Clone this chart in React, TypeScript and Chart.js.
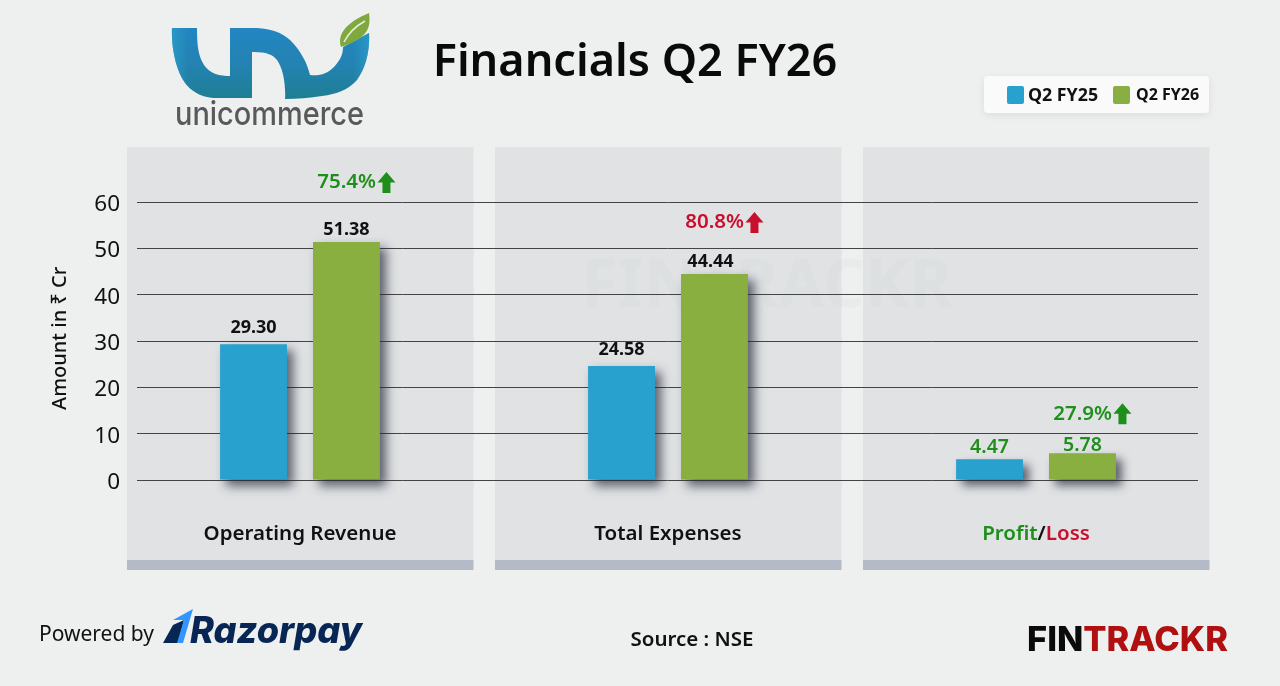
import React, { useEffect, useRef } from 'react';
import Chart from 'chart.js/auto';

const FONT = '"Noto Sans", "Open Sans", sans-serif';

const categories = ['Operating Revenue', 'Total Expenses', 'Profit/Loss'];
const q2fy25 = [29.3, 24.58, 4.47];
const q2fy26 = [51.38, 44.44, 5.78];
const seriesLabels = ['Q2 FY25', 'Q2 FY26'];
const seriesColors = ['#28A1CE', '#88AF3F'];
const yTicks = [0, 10, 20, 30, 40, 50, 60];

const changeLabels = ['75.4%', '80.8%', '27.9%'];
const changeColors = ['#1F8F1B', '#C8102E', '#1F8F1B'];
// height of the change labels, in axis units
const changeLevels = [64.2, 55.6, 14.3];

const panelLefts = [127, 495, 863];

const GREEN = '#1F8F1B';
const RED = '#C8102E';

const backdrop = {
  id: 'backdrop',
  beforeDraw(chart: any) {
    const { ctx } = chart;
    ctx.save();
    panelLefts.forEach((left) => {
      ctx.fillStyle = '#E0E2E4';
      ctx.fillRect(left, 147, 346.5, 413);
      ctx.fillStyle = '#B4BAC6';
      ctx.fillRect(left, 560, 346.5, 10);
    });
    ctx.font = `700 66px ${FONT}`;
    ctx.fillStyle = 'rgba(200,204,208,0.1)';
    ctx.textAlign = 'center';
    ctx.textBaseline = 'middle';
    ctx.fillText('FINTRACKR', 767, 288);
    ctx.restore();
  },
};

const barShadow = {
  id: 'barShadow',
  beforeDatasetsDraw(chart: any) {
    const { ctx } = chart;
    ctx.save();
    ctx.shadowColor = 'rgba(35,40,55,0.7)';
    ctx.shadowBlur = 10;
    ctx.shadowOffsetX = 6;
    ctx.shadowOffsetY = 6;
  },
  afterDatasetsDraw(chart: any) {
    chart.ctx.restore();
  },
};

const drawArrow = (ctx: any, x: number, y: number, color: string) => {
  ctx.fillStyle = color;
  ctx.beginPath();
  ctx.moveTo(x, y - 10.5);
  ctx.lineTo(x + 9, y);
  ctx.lineTo(x + 4, y);
  ctx.lineTo(x + 4, y + 10.5);
  ctx.lineTo(x - 4, y + 10.5);
  ctx.lineTo(x - 4, y);
  ctx.lineTo(x - 9, y);
  ctx.closePath();
  ctx.fill();
};

const annotations = {
  id: 'annotations',
  afterDraw(chart: any) {
    const { ctx, scales } = chart;
    ctx.save();
    ctx.textBaseline = 'middle';
    ctx.textAlign = 'center';

    // values above the bars
    [q2fy25, q2fy26].forEach((values, d) => {
      const bars = chart.getDatasetMeta(d).data;
      values.forEach((v, i) => {
        ctx.font = i === 2 ? `600 19.5px ${FONT}` : `700 18px ${FONT}`;
        ctx.fillStyle = i === 2 ? GREEN : '#111';
        let gap = d === 0 ? 16 : 12.5;
        if (i === 2) gap = d === 1 ? 8 : 12;
        // the 44.44 label sits a little left of its bar in the picture
        const nudge = i === 1 && d === 1 ? -4 : 0;
        ctx.fillText(v.toFixed(2), bars[i].x + nudge, scales.y.getPixelForValue(v) - gap);
      });
    });

    // change labels with the arrow
    changeLabels.forEach((label, i) => {
      const x = chart.getDatasetMeta(1).data[i].x;
      const y = scales.y.getPixelForValue(changeLevels[i]);
      ctx.font = `600 20.5px ${FONT}`;
      ctx.fillStyle = changeColors[i];
      ctx.textAlign = 'right';
      ctx.fillText(label, x + 29.5, y);
      drawArrow(ctx, x + 40, y, changeColors[i]);
    });

    // category labels
    ctx.font = `600 20.5px ${FONT}`;
    ctx.textAlign = 'left';
    categories.forEach((name, i) => {
      const cx = scales.x.getPixelForValue(i);
      const parts =
        name === 'Profit/Loss'
          ? [['Profit', GREEN], ['/', '#111'], ['Loss', RED]]
          : [[name, '#111']];
      const total = parts.reduce((w, p) => w + ctx.measureText(p[0]).width, 0);
      let x = cx - total / 2;
      parts.forEach((p) => {
        ctx.fillStyle = p[1];
        ctx.fillText(p[0], x, 534);
        x += ctx.measureText(p[0]).width;
      });
    });
    ctx.restore();
  },
};

const App: React.FC = () => {
  const canvasRef = useRef<HTMLCanvasElement>(null);

  useEffect(() => {
    document.body.style.margin = '0';
    if (!canvasRef.current) return;
    const chart = new Chart(canvasRef.current, {
      type: 'bar',
      data: {
        datasets: [q2fy25, q2fy26].map((values, d) => ({
          label: seriesLabels[d],
          data: values.map((y, x) => ({ x, y })),
          backgroundColor: seriesColors[d],
          borderWidth: 0,
          categoryPercentage: 0.505,
          barPercentage: 0.72,
          clip: false,
        })),
      },
      options: {
        responsive: false,
        animation: false,
        devicePixelRatio: 1,
        layout: { autoPadding: false, padding: { left: 0, top: 202, right: 82, bottom: 206 } },
        plugins: { legend: { display: false }, title: { display: false }, tooltip: { enabled: false } },
        scales: {
          x: {
            type: 'linear',
            display: false,
            offset: false,
            min: -0.4429,
            max: 2.4402,
            ticks: { stepSize: 1, includeBounds: false },
          },
          y: {
            min: 0,
            max: 60,
            afterFit: (scale: any) => {
              scale.width = 137;
            },
            afterBuildTicks: (scale: any) => {
              scale.ticks = yTicks.map((value) => ({ value }));
            },
            border: { display: false },
            grid: { color: '#444', lineWidth: 1, drawTicks: false },
            ticks: { color: '#111', padding: 17, labelOffset: 2.5, font: { family: FONT, size: 22.5 } },
            title: {
              display: true,
              text: ' Amount in ₹ Cr',
              color: '#111',
              font: { family: FONT, size: 20, weight: 500 },
              padding: { top: 48, bottom: 0 },
            },
          },
        },
      },
      plugins: [backdrop, barShadow, annotations],
    } as any);
    return () => chart.destroy();
  }, []);

  const swatch = (left: number, color: string) => (
    <div style={{ position: 'absolute', left, top: 10, width: 17, height: 18, borderRadius: 2, background: color }} />
  );

  return (
    <div style={{ position: 'relative', width: 1280, height: 686, overflow: 'hidden', background: '#EEEFEF', fontFamily: FONT }}>
      <canvas ref={canvasRef} width={1280} height={686} style={{ position: 'absolute', left: 0, top: 0, display: 'block' }} />

      <svg width={1280} height={686} style={{ position: 'absolute', left: 0, top: 0 }}>
        <defs>
          <linearGradient id="uniFill" x1="0" y1="0" x2="0" y2="1">
            <stop offset="0" stopColor="#2386C2" />
            <stop offset="0.55" stopColor="#2382B0" />
            <stop offset="1" stopColor="#1E7F92" />
          </linearGradient>
          <linearGradient id="uniEdge" x1="0" y1="0" x2="1" y2="0">
            <stop offset="0" stopColor="#2A9CC6" stopOpacity="0.8" />
            <stop offset="0.08" stopColor="#2A9CC6" stopOpacity="0" />
            <stop offset="0.92" stopColor="#2A9CC6" stopOpacity="0" />
            <stop offset="1" stopColor="#2A9CC6" stopOpacity="0.8" />
          </linearGradient>
        </defs>
        {['url(#uniFill)', 'url(#uniEdge)'].map((fill) => (
          <path
            key={fill}
            fill={fill}
            d="M172 28 L197 28 C197 45 198 55 204 65 C210 74 220 76 230 76 L230 28 L257 28 C272 29 281 32 290 40 C300 50 307 62 310 75 C320 76 327 74 334 67 C340 60 343 55 343 47 L369 33 C370 50 366 68 357 80 C348 90 337 94 322 96 C310 98 297 99 285 99 C286 85 283 68 277 60 C272 54 266 52 252 52 L252 98 L213 98 C200 97 190 90 185 83 C177 72 171 50 172 28 Z"
          />
        ))}
        <path fill="#7FA83F" d="M341 47 C337 35 345 23 369 13 C371 28 368 38 341 47 Z" />
        <path fill="none" stroke="#E6EFD8" strokeWidth="1.5" d="M344 42 C349 32 356 26 365 21" />
        <text x={175} y={125} fontFamily="Inter" fontSize={33} fontWeight={500} fill="#59595B" textLength={189} lengthAdjust="spacingAndGlyphs">
          unicommerce
        </text>

        <text x={635} y={76} textAnchor="middle" fontFamily={FONT} fontSize={45} fontWeight={600} fill="#0A0A0A">
          Financials Q2 FY26
        </text>

        <text x={39} y={641} fontFamily={FONT} fontSize={21} fill="#111">
          Powered by
        </text>
        <path fill="#072654" d="M163 643 L173 625 L184 620 L178 643 Z" />
        <path fill="#3395FF" d="M173 620 L193 609 L183 643 L177 643 L184 620 Z" />
        <text x={190} y={643} fontFamily="Inter" fontSize={37} fontWeight={800} fontStyle="italic" fill="#072654" textLength={172} lengthAdjust="spacingAndGlyphs">
          Razorpay
        </text>

        <text x={692} y={646} textAnchor="middle" fontFamily={FONT} fontSize={20.5} fontWeight={600} fill="#111">
          Source : NSE
        </text>

        <text x={1027} y={651} fontFamily="Inter" fontSize={34} fontWeight={800} textLength={201} lengthAdjust="spacingAndGlyphs" fill="#0A0A0A">
          FIN<tspan fill="#B01010">TRACKR</tspan>
        </text>
      </svg>

      <div style={{ position: 'absolute', left: 984, top: 76, width: 225, height: 37, borderRadius: 4, background: '#FAFAFA', boxShadow: '0 2px 8px rgba(0,0,0,0.08)' }}>
        {swatch(23, seriesColors[0])}
        <span style={{ position: 'absolute', left: 44, top: 7, fontSize: 17.8, fontWeight: 700, color: '#111', lineHeight: '22px' }}>{seriesLabels[0]}</span>
        {swatch(129, seriesColors[1])}
        <span style={{ position: 'absolute', left: 152, top: 7, fontSize: 16, fontWeight: 700, color: '#111', lineHeight: '22px' }}>{seriesLabels[1]}</span>
      </div>
    </div>
  );
};

export default App;
